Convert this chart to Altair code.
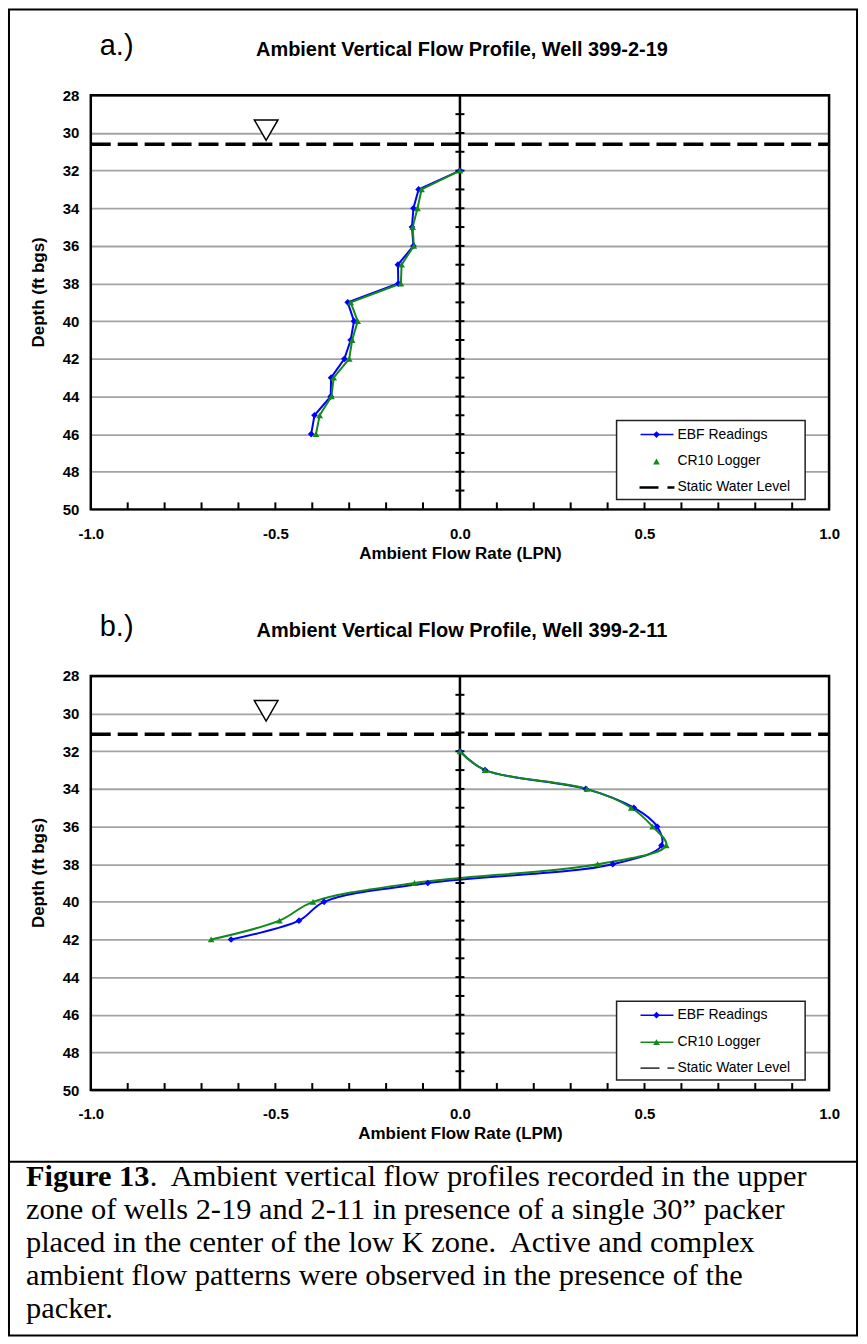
import altair as alt
import pandas as pd

# ---------------- data ----------------
depth_a = [32, 33, 34, 35, 36, 37, 38, 39, 40, 41, 42, 43, 44, 45, 46]
ebf_a = [0.0, -0.112, -0.126, -0.130, -0.126, -0.168, -0.167, -0.304, -0.287,
         -0.296, -0.313, -0.349, -0.350, -0.394, -0.403]
cr10_a = [0.0, -0.104, -0.115, -0.128, -0.125, -0.158, -0.160, -0.296, -0.277,
          -0.292, -0.300, -0.342, -0.348, -0.380, -0.390]

depth_b = [32, 33, 34, 35, 36, 37, 38, 39, 40, 41, 42]
ebf_b = [0.0, 0.068, 0.341, 0.471, 0.534, 0.546, 0.414, -0.087, -0.368, -0.436, -0.620]
cr10_b = [0.0, 0.068, 0.344, 0.464, 0.522, 0.559, 0.373, -0.123, -0.398, -0.489, -0.674]

swl_a = 30.6
swl_b = 31.1
swl_symbol_x = -0.525
swl_symbol_depth = 29.85

depth_labels = [28, 30, 32, 34, 36, 38, 40, 42, 44, 46, 48, 50]
x_labels = [-1.0, -0.5, 0.0, 0.5, 1.0]
x_minor = [-0.9, -0.8, -0.7, -0.6, -0.5, -0.4, -0.3, -0.2, -0.1,
           0.1, 0.2, 0.3, 0.4, 0.5, 0.6, 0.7, 0.8, 0.9]
zero_ticks = [29, 30, 31, 32, 33, 34, 35, 36, 37, 38, 39, 40, 41, 42, 43, 44,
              45, 46, 47, 48, 49]

title_a = "Ambient Vertical Flow Profile, Well 399-2-19"
title_b = "Ambient Vertical Flow Profile, Well 399-2-11"
xtitle_a = "Ambient Flow Rate (LPN)"
xtitle_b = "Ambient Flow Rate (LPM)"
ytitle = "Depth (ft bgs)"
legend_labels = ["EBF Readings", "CR10 Logger", "Static Water Level"]
caption_bold = "Figure 13"
caption_lines = [
    ".\u00a0 Ambient vertical flow profiles recorded in the upper",
    "zone of wells 2-19 and 2-11 in presence of a single 30\u201d packer",
    "placed in the center of the low K zone.\u00a0 Active and complex",
    "ambient flow patterns were observed in the presence of the",
    "packer.",
]

BLUE = "#0000ff"
GREEN = "#12891a"
FONT = "Liberation Sans"
W, H = 740, 415

xs = alt.Scale(domain=[-1, 1], nice=False, zero=False)
ys = alt.Scale(domain=[28, 50], reverse=True, nice=False, zero=False)
one = pd.DataFrame({"i": [0]})


def px_text(text, x, y, size, weight="normal", align="left", font=FONT, color="black", baseline="middle"):
    return alt.Chart(one).mark_text(
        text=text, fontSize=size, fontWeight=weight, align=align,
        baseline=baseline, font=font, color=color
    ).encode(x=alt.value(x), y=alt.value(y))


def panel(depths, ebf, cr10, swl, label, title, xtitle, interp, smooth_legend):
    df = pd.DataFrame({"depth": depths, "ebf": ebf, "cr10": cr10})
    x_axis = alt.Axis(values=x_labels, format=".1f",
                      labelExpr="replace(datum.label, '\u2212', '-')",
                      title=xtitle, ticks=False,
                      domain=False, grid=False, labelFontSize=15,
                      labelFontWeight="bold", labelPadding=24,
                      labelBaseline="middle", labelFlush=False,
                      titleFontSize=17, titleFontWeight="bold", titleY=44,
                      titleBaseline="middle")
    y_axis = alt.Axis(values=depth_labels, title=ytitle, ticks=False,
                      domain=False, grid=True, gridColor="#a3a3a3",
                      gridWidth=1.8, labelFontSize=15, labelFontWeight="bold",
                      labelPadding=12, titleFontSize=17,
                      titleFontWeight="bold", titleX=-52, titleY=197,
                      titleAngle=270, titleBaseline="middle")

    def X(f):
        return alt.X(f, scale=xs, axis=x_axis)

    def Y(f):
        return alt.Y(f, scale=ys, axis=y_axis)

    base = alt.Chart(df)

    blue_line = base.mark_line(color=BLUE, strokeWidth=2, interpolate=interp).encode(
        x=X("ebf:Q"), y=Y("depth:Q"), order="depth:Q")
    green_line = base.mark_line(color=GREEN, strokeWidth=2, interpolate=interp).encode(
        x=X("cr10:Q"), y=Y("depth:Q"), order="depth:Q")
    blue_pts = base.mark_point(shape="diamond", filled=True, size=45, color=BLUE,
                               opacity=1).encode(x=X("ebf:Q"), y=Y("depth:Q"))
    green_pts = base.mark_point(shape="triangle-up", filled=True, size=45,
                                color=GREEN, opacity=1).encode(
        x=X("cr10:Q"), y=Y("depth:Q"))

    zero_df = pd.DataFrame({"x": [0.0], "top": [28], "bottom": [50]})
    zero_line = alt.Chart(zero_df).mark_rule(color="black", strokeWidth=2.5).encode(
        x=X("x:Q"), y=Y("top:Q"), y2="bottom:Q")
    zt_df = pd.DataFrame({"x": [0.0] * len(zero_ticks), "depth": zero_ticks})
    zero_tick = alt.Chart(zt_df).mark_rule(color="black", strokeWidth=2,
                                           xOffset=-4.5, x2Offset=4.5).encode(
        x=X("x:Q"), x2="x:Q", y=Y("depth:Q"))
    xm_df = pd.DataFrame({"x": x_minor})
    x_tick = alt.Chart(xm_df).mark_rule(color="black", strokeWidth=2).encode(
        x=X("x:Q"), y=alt.value(H), y2=alt.value(H - 7))

    swl_df = pd.DataFrame({"x1": [-1.0], "x2": [1.0], "depth": [swl]})
    swl_rule = alt.Chart(swl_df).mark_rule(color="black", strokeWidth=3.5,
                                           strokeDash=[20, 7]).encode(
        x=X("x1:Q"), x2="x2:Q", y=Y("depth:Q"))
    sym_df = pd.DataFrame({"x": [swl_symbol_x], "depth": [swl_symbol_depth]})
    swl_sym = alt.Chart(sym_df).mark_point(shape="triangle-down", size=560,
                                           filled=True, fill="white",
                                           stroke="black", strokeWidth=1.5,
                                           opacity=1).encode(
        x=X("x:Q"), y=Y("depth:Q"))

    border = alt.Chart(one).mark_rect(fill="white", fillOpacity=0, stroke="black",
                                      strokeWidth=2.5).encode(
        x=alt.value(0), x2=alt.value(W), y=alt.value(0), y2=alt.value(H))

    # legend (drawn as marks)
    lx0, lx1 = 527, 716
    ly0, ly1 = 326, 405
    leg_box = alt.Chart(one).mark_rect(fill="white", stroke="#222",
                                       strokeWidth=1.5).encode(
        x=alt.value(lx0), x2=alt.value(lx1), y=alt.value(ly0), y2=alt.value(ly1))
    e1, e2, e3 = 340, 367, 393
    leg = [leg_box]
    leg.append(alt.Chart(one).mark_rule(color=BLUE, strokeWidth=1.5).encode(
        x=alt.value(551), x2=alt.value(584), y=alt.value(e1)))
    leg.append(alt.Chart(one).mark_point(shape="diamond", filled=True, size=45,
                                         color=BLUE, opacity=1).encode(
        x=alt.value(567), y=alt.value(e1)))
    if smooth_legend:
        leg.append(alt.Chart(one).mark_rule(color=GREEN, strokeWidth=1.5).encode(
            x=alt.value(551), x2=alt.value(584), y=alt.value(e2)))
    leg.append(alt.Chart(one).mark_point(shape="triangle-up", filled=True, size=45,
                                         color=GREEN, opacity=1).encode(
        x=alt.value(567), y=alt.value(e2)))
    if smooth_legend:
        leg.append(alt.Chart(one).mark_rule(color="#444", strokeWidth=1.8,
                                            strokeDash=[19, 8]).encode(
            x=alt.value(551), x2=alt.value(585), y=alt.value(e3)))
    else:
        leg.append(alt.Chart(one).mark_rule(color="black", strokeWidth=2.5,
                                            strokeDash=[19, 9]).encode(
            x=alt.value(550), x2=alt.value(585), y=alt.value(e3)))
    for lab, yy in zip(legend_labels, [e1, e2, e3]):
        leg.append(px_text(lab, 588, yy, 14))

    texts = [
        px_text(label, 9, -49, 29),
        px_text(title, 372, -45, 20, weight="bold", align="center"),
    ]

    layers = [blue_line, green_line, zero_line, zero_tick, x_tick, swl_rule,
              swl_sym, blue_pts, green_pts, border] + leg + texts
    return layers


layers_a = panel(depth_a, ebf_a, cr10_a, swl_a, "a.)", title_a, xtitle_a,
                 "linear", False)
frame = alt.Chart(one).mark_rect(fill="white", fillOpacity=0, stroke="black",
                                 strokeWidth=2).encode(
    x=alt.value(-82), x2=alt.value(768), y=alt.value(-86), y2=alt.value(1243))
panel_a = alt.layer(*layers_a, frame).properties(width=W, height=H)

layers_b = panel(depth_b, ebf_b, cr10_b, swl_b, "b.)", title_b, xtitle_b,
                 "catmull-rom", True)
divider = alt.Chart(one).mark_rule(color="black", strokeWidth=2).encode(
    x=alt.value(-82), x2=alt.value(768), y=alt.value(487))
CAP = 30.5
cap = [divider]
cap.append(px_text(caption_bold, -65, 511, CAP, weight="bold",
                   font="Liberation Serif", baseline="alphabetic"))
cap.append(px_text(caption_lines[0], -65 + 124, 511, CAP, font="Liberation Serif",
                   baseline="alphabetic"))
for k, line in enumerate(caption_lines[1:]):
    cap.append(px_text(line, -65, 544 + 33 * k, CAP, font="Liberation Serif",
                       baseline="alphabetic"))
panel_b = alt.layer(*layers_b, *cap).properties(width=W, height=H)

chart = alt.vconcat(panel_a, panel_b, spacing=167, bounds="flush").properties(
    padding={"left": 7, "top": 6, "right": 8, "bottom": 7},
    background="white",
).configure_view(strokeWidth=0).configure(font=FONT)

chart.save("out.html", embed_options={"renderer": "svg", "actions": False})
